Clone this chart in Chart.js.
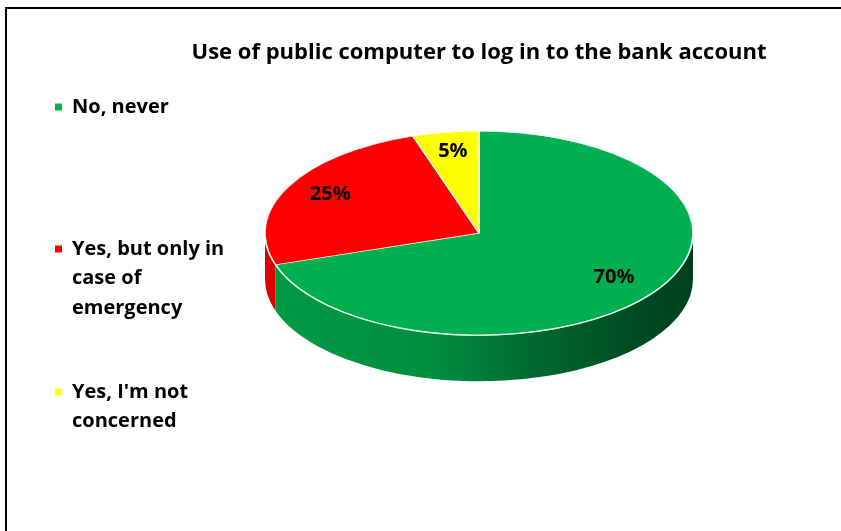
<!DOCTYPE html>
<html>
<head>
<meta charset="utf-8">
<title>Public computer banking</title>
<script src="https://cdn.jsdelivr.net/npm/chart.js@4.4.1/dist/chart.umd.min.js"></script>
<style>
  html, body { margin: 0; padding: 0; background: #fff; }
  #wrap { width: 841px; height: 531px; position: relative; }
</style>
</head>
<body>
<div id="wrap"><canvas id="pieChart"></canvas></div>
<script>
const chartTitle = 'Use of public computer to log in to the bank account';
const answers = ['No, never', 'Yes, but only in case of emergency', "Yes, I'm not concerned"];
const shares = [70, 25, 5];
const sliceColors = ['#00b050', '#ff0000', '#ffff00'];

const fontFamily = '"Open Sans", Lato, sans-serif';

// mix a hex colour toward black by factor f (1 = unchanged)
function shade(hex, f) {
    const n = parseInt(hex.slice(1), 16);
    const r = Math.round(((n >> 16) & 255) * f);
    const g = Math.round(((n >> 8) & 255) * f);
    const b = Math.round((n & 255) * f);
    return `rgb(${r}, ${g}, ${b})`;
}

// outer frame lines (top and left only)
const frame = {
    id: 'frame',
    beforeDraw(chart) {
        const ctx = chart.ctx;
        ctx.save();
        ctx.strokeStyle = '#000';
        ctx.lineWidth = 2;
        ctx.beginPath();
        ctx.moveTo(6, chart.height);
        ctx.lineTo(6, 8);
        ctx.lineTo(chart.width, 8);
        ctx.stroke();
        ctx.restore();
    }
};

// squash the pie into a tilted disc and give it a side wall
const pie3d = {
    id: 'pie3d',
    beforeDatasetDraw(chart, args, opts) {
        const ctx = chart.ctx;
        const arcs = chart.getDatasetMeta(args.index).data;
        if (!arcs.length) return;
        const { x: cx, y: cy, outerRadius: r } = arcs[0];
        const ry = r * opts.tilt;
        const depth = opts.depth;

        ctx.save();
        arcs.forEach((arc, i) => {
            // only the front half of the wall can be seen
            const s = Math.max(arc.startAngle, 0);
            const e = Math.min(arc.endAngle, Math.PI);
            if (e <= s) return;
            const base = chart.data.datasets[args.index].backgroundColor[i];
            const grad = ctx.createLinearGradient(cx - r, 0, cx + r, 0);
            grad.addColorStop(0, shade(base, 0.88));
            grad.addColorStop(0.4, shade(base, 0.8));
            grad.addColorStop(0.62, shade(base, 0.6));
            grad.addColorStop(0.85, shade(base, 0.44));
            grad.addColorStop(1, shade(base, 0.36));
            ctx.beginPath();
            ctx.ellipse(cx, cy, r, ry, 0, s, e, false);
            ctx.ellipse(cx, cy + depth, r, ry, 0, e, s, true);
            ctx.closePath();
            ctx.fillStyle = grad;
            ctx.fill();
        });
        ctx.restore();

        ctx.save();
        ctx.translate(0, cy);
        ctx.scale(1, opts.tilt);
        ctx.translate(0, -cy);
    },
    afterDatasetDraw(chart, args, opts) {
        const ctx = chart.ctx;
        ctx.restore();
        const arcs = chart.getDatasetMeta(args.index).data;
        if (!arcs.length) return;
        const { x: cx, y: cy, outerRadius: r } = arcs[0];
        const ry = r * opts.tilt;

        // light rim along the front edge of the top face
        ctx.save();
        ctx.strokeStyle = 'rgba(230, 255, 235, 0.9)';
        ctx.lineWidth = 1.5;
        ctx.beginPath();
        ctx.ellipse(cx, cy, r, ry, 0, 0.02, Math.PI - 0.02, false);
        ctx.stroke();
        ctx.restore();

        // percentage labels on the top face
        ctx.save();
        ctx.font = `bold ${opts.labelSize}px ${fontFamily}`;
        ctx.fillStyle = '#000';
        ctx.textAlign = 'center';
        ctx.textBaseline = 'middle';
        const values = chart.data.datasets[args.index].data;
        arcs.forEach((arc, i) => {
            const mid = (arc.startAngle + arc.endAngle) / 2;
            const lx = cx + Math.cos(mid) * r * opts.labelRadius;
            const ly = cy + Math.sin(mid) * ry * opts.labelRadius - opts.labelLift;
            ctx.fillText(values[i] + '%', lx, ly);
        });
        ctx.restore();
    }
};

// legend on the left, wrapped text with square markers
const sideLegend = {
    id: 'sideLegend',
    afterDraw(chart, args, opts) {
        const ctx = chart.ctx;
        const colors = chart.data.datasets[0].backgroundColor;
        ctx.save();
        ctx.font = `bold ${opts.size}px ${fontFamily}`;
        ctx.textBaseline = 'middle';
        ctx.textAlign = 'left';
        chart.data.labels.forEach((label, i) => {
            const lines = [];
            let line = '';
            label.split(' ').forEach(word => {
                const test = line ? line + ' ' + word : word;
                if (line && ctx.measureText(test).width > opts.maxWidth) {
                    lines.push(line);
                    line = word;
                } else {
                    line = test;
                }
            });
            lines.push(line);
            const y0 = opts.itemY[i];
            ctx.fillStyle = colors[i];
            ctx.fillRect(opts.x, y0 - 3.5, 7, 7);
            ctx.fillStyle = '#000';
            lines.forEach((t, j) => ctx.fillText(t, opts.x + 17, y0 + j * opts.lineHeight));
        });
        ctx.restore();
    }
};

new Chart(document.getElementById('pieChart'), {
    type: 'pie',
    data: {
        labels: answers,
        datasets: [{
            data: shares,
            backgroundColor: sliceColors,
            borderColor: 'rgba(255, 255, 255, 0.85)',
            borderWidth: 1.5,
            radius: 214
        }]
    },
    options: {
        responsive: true,
        maintainAspectRatio: false,
        animation: false,
        layout: {
            padding: { left: 125, right: 8, top: 0, bottom: 141 }
        },
        plugins: {
            legend: { display: false },
            tooltip: { enabled: false },
            title: {
                display: true,
                text: chartTitle,
                color: '#000',
                font: { family: fontFamily, size: 22, weight: 'bold', lineHeight: 1.2 },
                padding: { top: 40, bottom: 10 }
            },
            pie3d: { tilt: 0.477, depth: 46, labelRadius: 0.78, labelLift: 3, labelSize: 20 },
            sideLegend: { x: 55, itemY: [107, 249, 392], lineHeight: 29.5, maxWidth: 166, size: 20 }
        }
    },
    plugins: [frame, pie3d, sideLegend]
});
</script>
</body>
</html>
